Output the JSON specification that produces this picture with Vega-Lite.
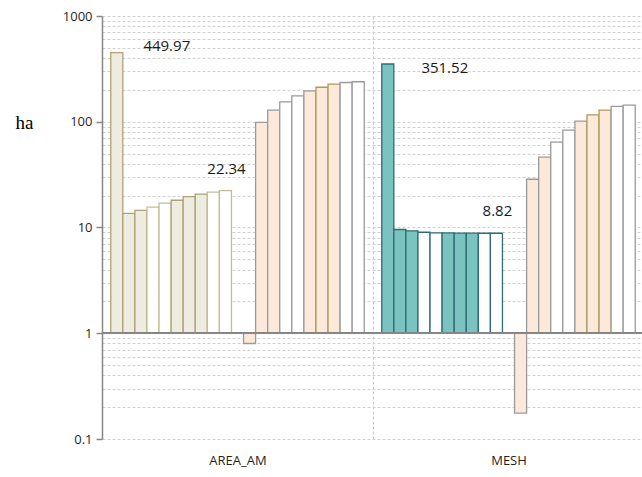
{
  "$schema": "https://vega.github.io/schema/vega-lite/v6.json",
  "autosize": {"type": "none"},
  "padding": {"left": 102, "top": 16, "right": 0, "bottom": 38},
  "width": 542,
  "height": 423,
  "background": "white",
  "config": {"view": {"stroke": null}},
  "data": {
    "values": [
      {"group": "AREA_AM", "slot": 1, "ha": 449.97, "style": "tan"},
      {"group": "AREA_AM", "slot": 2, "ha": 13.6, "style": "tan"},
      {"group": "AREA_AM", "slot": 3, "ha": 14.5, "style": "tan"},
      {"group": "AREA_AM", "slot": 4, "ha": 15.6, "style": "tan open"},
      {"group": "AREA_AM", "slot": 5, "ha": 17.0, "style": "tan open"},
      {"group": "AREA_AM", "slot": 6, "ha": 18.1, "style": "tan"},
      {"group": "AREA_AM", "slot": 7, "ha": 19.6, "style": "tan"},
      {"group": "AREA_AM", "slot": 8, "ha": 20.7, "style": "tan"},
      {"group": "AREA_AM", "slot": 9, "ha": 21.6, "style": "tan open"},
      {"group": "AREA_AM", "slot": 10, "ha": 22.34, "style": "tan open"},
      {"group": "AREA_AM", "slot": 12, "ha": 0.8, "style": "peach"},
      {"group": "AREA_AM", "slot": 13, "ha": 98.5, "style": "peach"},
      {"group": "AREA_AM", "slot": 14, "ha": 129, "style": "peach"},
      {"group": "AREA_AM", "slot": 15, "ha": 154, "style": "open"},
      {"group": "AREA_AM", "slot": 16, "ha": 176, "style": "open"},
      {"group": "AREA_AM", "slot": 17, "ha": 196, "style": "peach"},
      {"group": "AREA_AM", "slot": 18, "ha": 212, "style": "peach edged"},
      {"group": "AREA_AM", "slot": 19, "ha": 227, "style": "peach edged"},
      {"group": "AREA_AM", "slot": 20, "ha": 235, "style": "open"},
      {"group": "AREA_AM", "slot": 21, "ha": 239, "style": "open"},
      {"group": "MESH", "slot": 1, "ha": 351.52, "style": "teal"},
      {"group": "MESH", "slot": 2, "ha": 9.57, "style": "teal"},
      {"group": "MESH", "slot": 3, "ha": 9.29, "style": "teal"},
      {"group": "MESH", "slot": 4, "ha": 9.02, "style": "teal open"},
      {"group": "MESH", "slot": 5, "ha": 8.9, "style": "teal open"},
      {"group": "MESH", "slot": 6, "ha": 8.88, "style": "teal"},
      {"group": "MESH", "slot": 7, "ha": 8.85, "style": "teal"},
      {"group": "MESH", "slot": 8, "ha": 8.83, "style": "teal"},
      {"group": "MESH", "slot": 9, "ha": 8.82, "style": "teal open"},
      {"group": "MESH", "slot": 10, "ha": 8.82, "style": "teal open"},
      {"group": "MESH", "slot": 12, "ha": 0.176, "style": "peach"},
      {"group": "MESH", "slot": 13, "ha": 28.6, "style": "peach"},
      {"group": "MESH", "slot": 14, "ha": 46.2, "style": "peach"},
      {"group": "MESH", "slot": 15, "ha": 64.1, "style": "open"},
      {"group": "MESH", "slot": 16, "ha": 83.2, "style": "open"},
      {"group": "MESH", "slot": 17, "ha": 101.4, "style": "peach"},
      {"group": "MESH", "slot": 18, "ha": 116, "style": "peach edged"},
      {"group": "MESH", "slot": 19, "ha": 129, "style": "peach edged"},
      {"group": "MESH", "slot": 20, "ha": 139.6, "style": "open"},
      {"group": "MESH", "slot": 21, "ha": 143.6, "style": "open"}
    ]
  },
  "layer": [
    {
      "mark": {"type": "bar", "strokeWidth": 1.3},
      "encoding": {
        "x": {
          "field": "group",
          "type": "nominal",
          "scale": {"paddingInner": 0, "paddingOuter": 0},
          "axis": {
            "title": null,
            "labelAngle": 0,
            "domain": false,
            "ticks": false,
            "labelPadding": 15,
            "labelFont": "Open Sans",
            "labelFontSize": 13,
            "labelColor": "#1F1F1F",
            "grid": true,
            "tickBand": "extent",
            "gridColor": "#C8C8C8",
            "gridDash": [3, 2],
            "gridWidth": 1
          }
        },
        "xOffset": {
          "field": "slot",
          "type": "ordinal",
          "scale": {
            "domain": [1, 2, 3, 4, 5, 6, 7, 8, 9, 10, 11, 12, 13, 14, 15, 16, 17, 18, 19, 20, 21],
            "paddingInner": 0,
            "paddingOuter": 0.725
          }
        },
        "y": {
          "field": "ha",
          "type": "quantitative",
          "scale": {"type": "log", "domain": [0.1, 1000], "nice": false},
          "axis": {
            "title": "ha",
            "titleAngle": 0,
            "titleFont": "Liberation Serif",
            "titleFontSize": 19,
            "titleFontWeight": "normal",
            "titleColor": "#000000",
            "titleAlign": "center",
            "titleBaseline": "middle",
            "titleX": -78,
            "titleY": 106,
            "values": [0.1, 0.2, 0.3, 0.4, 0.5, 0.6, 0.7, 0.8, 0.9, 1, 2, 3, 4, 5, 6, 7, 8, 9, 10, 20, 30, 40, 50, 60, 70, 80, 90, 100, 200, 300, 400, 500, 600, 700, 800, 900, 1000],
            "format": "~g",
            "labelExpr": "indexof([0.1, 1, 10, 100, 1000], datum.value) >= 0 ? datum.label : ''",
            "labelFont": "Open Sans",
            "labelFontSize": 13,
            "labelColor": "#1F1F1F",
            "labelPadding": 4,
            "tickSize": 6,
            "tickColor": "#868686",
            "tickWidth": 1.5,
            "tickOpacity": {
              "condition": {"test": "indexof([0.1, 1, 10, 100, 1000], datum.value) >= 0", "value": 1},
              "value": 0
            },
            "domainColor": "#868686",
            "domainWidth": 1.5,
            "grid": true,
            "gridColor": "#D0D0D0",
            "gridDash": [3, 2],
            "gridWidth": 1
          }
        },
        "y2": {"datum": 1},
        "fill": {
          "field": "style",
          "type": "nominal",
          "legend": null,
          "scale": {
            "domain": ["tan", "tan open", "teal", "teal open", "peach", "peach edged", "open"],
            "range": ["#EEECE1", "#FFFFFF", "#7BC3C1", "#FFFFFF", "#FDE9D9", "#FDE9D9", "#FFFFFF"]
          }
        },
        "stroke": {
          "field": "style",
          "type": "nominal",
          "legend": null,
          "scale": {
            "domain": ["tan", "tan open", "teal", "teal open", "peach", "peach edged", "open"],
            "range": ["#ADA273", "#C4BC96", "#2F6C74", "#2F6C74", "#9A9A9A", "#A89B5E", "#9A9A9A"]
          }
        }
      }
    },
    {
      "mark": {"type": "rule", "color": "#868686", "strokeWidth": 1.5},
      "encoding": {"y": {"datum": 1}}
    },
    {
      "transform": [{"filter": "datum.group == 'AREA_AM' && datum.slot == 1"}],
      "mark": {"type": "text", "font": "Open Sans", "fontSize": 15, "color": "#1A1A1A", "baseline": "middle", "dx": 50, "dy": -7},
      "encoding": {
        "x": {"field": "group", "type": "nominal"},
        "xOffset": {"field": "slot", "type": "ordinal"},
        "y": {"field": "ha", "type": "quantitative"},
        "text": {"field": "ha", "type": "quantitative", "format": ".2f"}
      }
    },
    {
      "transform": [{"filter": "datum.group == 'MESH' && datum.slot == 1"}],
      "mark": {"type": "text", "font": "Open Sans", "fontSize": 15, "color": "#1A1A1A", "baseline": "middle", "dx": 57, "dy": 4},
      "encoding": {
        "x": {"field": "group", "type": "nominal"},
        "xOffset": {"field": "slot", "type": "ordinal"},
        "y": {"field": "ha", "type": "quantitative"},
        "text": {"field": "ha", "type": "quantitative", "format": ".2f"}
      }
    },
    {
      "transform": [{"filter": "datum.slot == 10"}],
      "mark": {"type": "text", "font": "Open Sans", "fontSize": 15, "color": "#1A1A1A", "baseline": "middle", "dx": 1, "dy": -22},
      "encoding": {
        "x": {"field": "group", "type": "nominal"},
        "xOffset": {"field": "slot", "type": "ordinal"},
        "y": {"field": "ha", "type": "quantitative"},
        "text": {"field": "ha", "type": "quantitative", "format": ".2f"}
      }
    }
  ]
}
